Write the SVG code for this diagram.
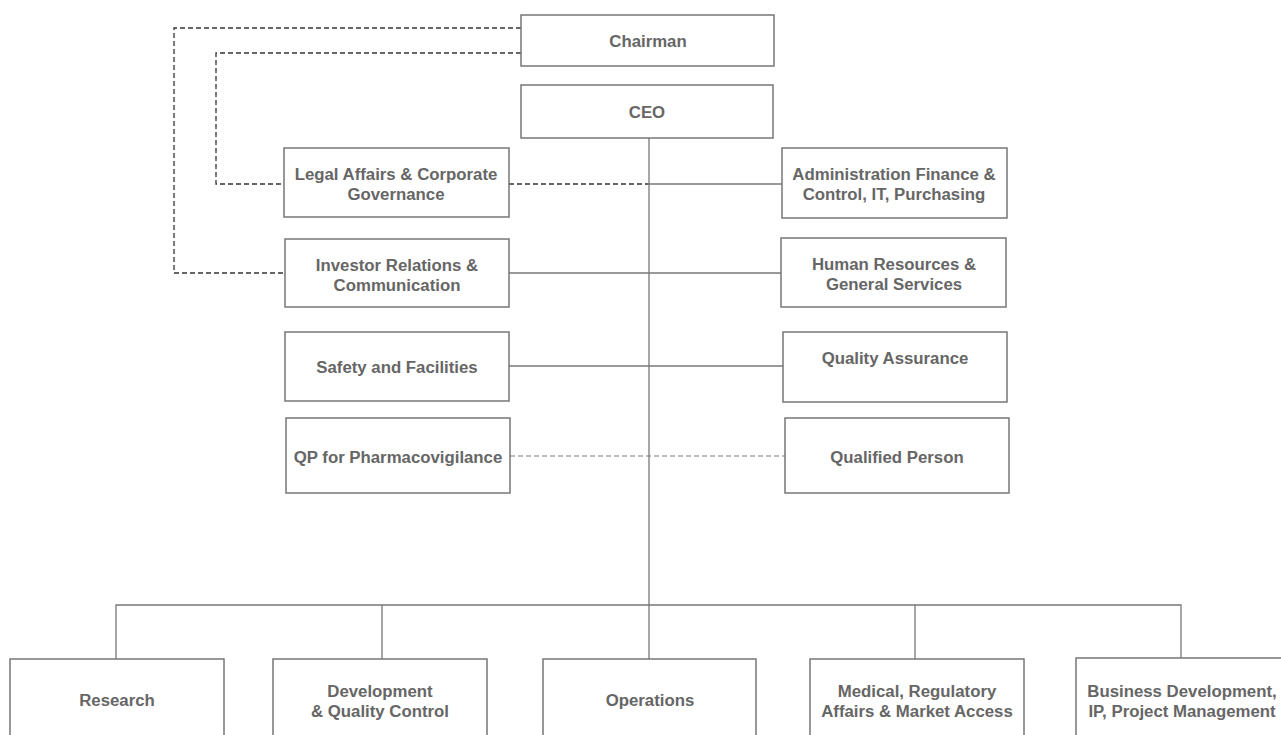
<svg xmlns="http://www.w3.org/2000/svg" width="1281" height="735" viewBox="0 0 1281 735">
<style>
.box{fill:#fff;stroke:#777;stroke-width:1.5}
.t{font-family:"Liberation Sans",Arial,sans-serif;font-weight:bold;font-size:16.8px;fill:#666;text-anchor:middle}
.ln{fill:none;stroke:#777;stroke-width:1.3}
.dk{fill:none;stroke:#333;stroke-width:1.3;stroke-dasharray:5 3}
.dg{fill:none;stroke:#777;stroke-width:1.2;stroke-dasharray:5 3}
</style>
<rect width="1281" height="735" fill="#fff"/>
<g id="connectors">
<path class="dk" d="M521 28H174V273H285"/>
<path class="dk" d="M521 53H216V184H284"/>
<path class="dk" d="M509 184H649"/>
<path class="ln" d="M649 184H782"/>
<path class="ln" d="M649 138V605"/>
<path class="ln" d="M509 273H781"/>
<path class="ln" d="M509 366H783"/>
<path class="dg" d="M510 456H785"/>
<path class="ln" d="M116 659V605H1181V659M382 605V659M649 605V659M915 605V659"/>
</g>
<g id="chairman"><rect class="box" x="521" y="15" width="253" height="51"/><text class="t" x="648" y="47">Chairman</text></g>
<g id="ceo"><rect class="box" x="521" y="85" width="252" height="53"/><text class="t" x="647" y="118">CEO</text></g>
<g id="legal"><rect class="box" x="284" y="148" width="225" height="69"/><text class="t" x="396" y="180">Legal Affairs &amp; Corporate</text><text class="t" x="396" y="200">Governance</text></g>
<g id="admin"><rect class="box" x="782" y="148" width="225" height="70"/><text class="t" x="894" y="180">Administration Finance &amp;</text><text class="t" x="894" y="200">Control, IT, Purchasing</text></g>
<g id="investor"><rect class="box" x="285" y="239" width="224" height="68"/><text class="t" x="397" y="271">Investor Relations &amp;</text><text class="t" x="397" y="291">Communication</text></g>
<g id="hr"><rect class="box" x="781" y="238" width="225" height="69"/><text class="t" x="894" y="270">Human Resources &amp;</text><text class="t" x="894" y="290">General Services</text></g>
<g id="safety"><rect class="box" x="285" y="332" width="224" height="69"/><text class="t" x="397" y="373">Safety and Facilities</text></g>
<g id="qa"><rect class="box" x="783" y="332" width="224" height="70"/><text class="t" x="895" y="364">Quality Assurance</text></g>
<g id="qppv"><rect class="box" x="286" y="418" width="224" height="75"/><text class="t" x="398" y="463">QP for Pharmacovigilance</text></g>
<g id="qp"><rect class="box" x="785" y="418" width="224" height="75"/><text class="t" x="897" y="463">Qualified Person</text></g>
<g id="research"><rect class="box" x="10" y="659" width="214" height="90"/><text class="t" x="117" y="706">Research</text></g>
<g id="development"><rect class="box" x="273" y="659" width="214" height="90"/><text class="t" x="380" y="697">Development</text><text class="t" x="380" y="717">&amp; Quality Control</text></g>
<g id="operations"><rect class="box" x="543" y="659" width="213" height="90"/><text class="t" x="650" y="706">Operations</text></g>
<g id="medical"><rect class="box" x="810" y="659" width="214" height="90"/><text class="t" x="917" y="697">Medical, Regulatory</text><text class="t" x="917" y="717">Affairs &amp; Market Access</text></g>
<g id="business"><rect class="box" x="1076" y="658" width="214" height="90"/><text class="t" x="1182" y="697">Business Development,</text><text class="t" x="1182" y="717">IP, Project Management</text></g>
</svg>
